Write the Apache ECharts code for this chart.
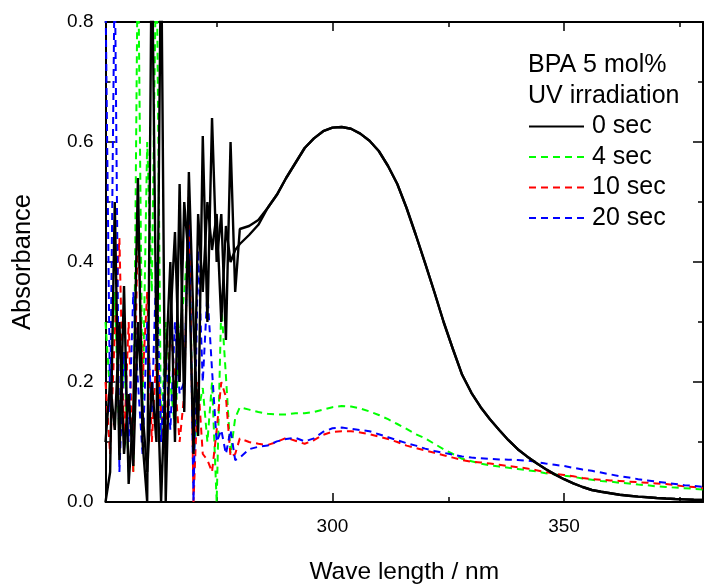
<!DOCTYPE html>
<html>
<head>
<meta charset="utf-8">
<script src="https://cdn.jsdelivr.net/npm/echarts@6/dist/echarts.min.js"></script>
<style>html,body{margin:0;padding:0;background:#fff;}#c{width:704px;height:585px;}</style>
</head>
<body>
<div id="c"></div>
<script>
// wavelengths (nm): 1 nm steps 251-280, then 2 nm steps 282-380
const wavelengths = [251,252,253,254,255,256,257,258,259,260,261,262,263,264,265,266,267,268,269,270,271,272,273,274,275,276,277,278,279,280,
  282,284,286,288,290,292,294,296,298,300,302,304,306,308,310,312,314,316,318,320,322,324,326,328,330,332,334,336,338,340,
  342,344,346,348,350,352,354,356,358,360,362,364,366,368,370,372,374,376,378,380];

const sec0a = [0.00,0.05,0.50,0.07,0.36,0.03,0.15,0.54,0.10,0.00,0.95,0.25,0.00,0.22,0.40,0.10,0.53,0.15,0.55,0.30,0.11,0.61,0.30,0.64,0.40,0.48,0.27,0.60,0.35,0.455,
  0.46,0.47,0.49,0.512,0.54,0.565,0.59,0.606,0.618,0.624,0.625,0.622,0.614,0.602,0.585,0.56,0.53,0.49,0.445,0.398,0.35,0.30,0.255,0.212,0.182,0.158,0.138,0.12,0.103,0.088,
  0.076,0.065,0.055,0.046,0.038,0.031,0.025,0.02,0.017,0.0145,0.012,0.0105,0.009,0.0078,0.0067,0.0058,0.005,0.0044,0.0038,0.0033];

const sec0b = [0.10,0.20,0.12,0.30,0.08,0.18,0.06,0.30,0.15,0.05,0.20,0.10,0.95,0.00,0.30,0.45,0.20,0.50,0.40,0.08,0.48,0.35,0.50,0.42,0.48,0.30,0.46,0.40,0.42,0.43,
  0.445,0.462,0.49,0.512,0.54,0.565,0.59,0.606,0.618,0.624,0.625,0.622,0.614,0.602,0.585,0.56,0.53,0.49,0.445,0.398,0.35,0.30,0.255,0.212,0.182,0.158,0.138,0.12,0.103,0.088,
  0.076,0.065,0.055,0.046,0.038,0.031,0.025,0.02,0.017,0.0145,0.012,0.0105,0.009,0.0078,0.0067,0.0058,0.005,0.0044,0.0038,0.0033];

const sec4 = [0.30,0.18,0.35,0.10,0.25,0.05,0.05,0.95,0.15,0.60,0.35,0.95,0.10,0.30,0.20,0.12,0.28,0.35,0.45,0.08,0.15,0.19,0.10,0.20,0.00,0.33,0.21,0.08,0.14,0.158,
  0.154,0.15,0.147,0.146,0.146,0.148,0.148,0.15,0.154,0.158,0.16,0.159,0.156,0.151,0.145,0.138,0.13,0.122,0.113,0.106,0.097,0.088,0.08,0.072,0.068,0.064,0.061,0.059,0.057,0.055,
  0.053,0.051,0.048,0.046,0.044,0.042,0.039,0.037,0.035,0.034,0.032,0.031,0.029,0.028,0.026,0.025,0.024,0.023,0.022,0.021];

const sec10 = [0.20,0.08,0.28,0.44,0.10,0.30,0.05,0.47,0.20,0.35,0.10,0.25,0.15,0.08,0.30,0.20,0.10,0.18,0.52,0.00,0.20,0.08,0.07,0.05,0.12,0.20,0.175,0.075,0.08,0.106,
  0.10,0.097,0.095,0.10,0.107,0.102,0.097,0.103,0.112,0.117,0.118,0.118,0.116,0.113,0.109,0.105,0.10,0.094,0.09,0.086,0.082,0.078,0.074,0.07,0.067,0.066,0.064,0.062,0.06,0.058,
  0.056,0.053,0.05,0.047,0.045,0.043,0.04,0.038,0.037,0.036,0.035,0.034,0.033,0.032,0.031,0.03,0.028,0.026,0.025,0.023];

const sec20 = [0.85,0.15,0.90,0.05,0.25,0.10,0.35,0.20,0.08,0.30,0.15,0.40,0.10,0.25,0.12,0.30,0.18,0.20,0.50,0.00,0.42,0.20,0.35,0.22,0.10,0.12,0.08,0.12,0.07,0.074,
  0.088,0.092,0.094,0.101,0.105,0.107,0.101,0.106,0.117,0.123,0.124,0.122,0.12,0.118,0.113,0.108,0.103,0.098,0.094,0.089,0.085,0.082,0.079,0.076,0.074,0.073,0.072,0.071,0.0705,0.07,
  0.069,0.067,0.064,0.062,0.06,0.057,0.054,0.052,0.049,0.046,0.043,0.041,0.038,0.036,0.034,0.032,0.03,0.028,0.027,0.025];

const xLabelTicks = [300, 350];
const xMinorTicks = [275, 325, 375];
const legendTitle = ['BPA 5 mol%', 'UV irradiation'];
const legendNames = ['0 sec', '4 sec', '10 sec', '20 sec'];

const FONT = "'Liberation Sans', Arial, sans-serif";
const pairs = arr => wavelengths.map((w, i) => [w, arr[i]]);
const chart = echarts.init(document.getElementById('c'), null, {renderer: 'canvas'});

const axisLine = {show: true, lineStyle: {color: '#000', width: 2}};
const xBase = {type: 'value', min: 251, max: 380, splitLine: {show: false}};
const yBase = {type: 'value', min: 0, max: 0.8, interval: 0.2, splitLine: {show: false},
  minorTick: {show: true, splitNumber: 2, length: 5, lineStyle: {color: '#000', width: 1.5}},
  minorSplitLine: {show: false}};

function dashed(name, color, arr) {
  return {name: name, type: 'line', data: pairs(arr), symbol: 'none', showSymbol: false,
    lineStyle: {color: color, width: 2, type: [7, 5]}, itemStyle: {color: color}, z: 2, animation: false};
}

chart.setOption({
  animation: false,
  grid: {left: 105.5, right: 1, top: 22, bottom: 83, containLabel: false, outerBoundsMode: 'none'},
  xAxis: [
    Object.assign({}, xBase, {position: 'bottom', axisLine: axisLine,
      axisTick: {show: true, inside: true, length: 9, customValues: xLabelTicks, lineStyle: {color: '#000', width: 1.5}},
      axisLabel: {show: true, customValues: xLabelTicks, margin: 15, color: '#000', fontSize: 19, fontFamily: FONT},
      name: 'Wave length / nm', nameLocation: 'middle', nameGap: 58,
      nameTextStyle: {color: '#000', fontSize: 24.5, fontFamily: FONT}}),
    Object.assign({}, xBase, {position: 'bottom', axisLine: {show: false},
      axisTick: {show: true, inside: true, length: 5, customValues: xMinorTicks, lineStyle: {color: '#000', width: 1.5}},
      axisLabel: {show: false}}),
    Object.assign({}, xBase, {position: 'top', axisLine: axisLine,
      axisTick: {show: true, inside: true, length: 9, customValues: xLabelTicks, lineStyle: {color: '#000', width: 1.5}},
      axisLabel: {show: false}}),
    Object.assign({}, xBase, {position: 'top', axisLine: {show: false},
      axisTick: {show: true, inside: true, length: 5, customValues: xMinorTicks, lineStyle: {color: '#000', width: 1.5}},
      axisLabel: {show: false}})
  ],
  yAxis: [
    Object.assign({}, yBase, {position: 'left', axisLine: axisLine,
      axisTick: {show: true, inside: true, length: 10, lineStyle: {color: '#000', width: 1.5}},
      axisLabel: {show: true, margin: 12, color: '#000', fontSize: 19, fontFamily: FONT, formatter: v => v.toFixed(1)},
      name: 'Absorbance', nameLocation: 'middle', nameGap: 70,
      nameTextStyle: {color: '#000', fontSize: 25.5, fontFamily: FONT}}),
    Object.assign({}, yBase, {position: 'right', axisLine: axisLine,
      axisTick: {show: true, inside: true, length: 10, lineStyle: {color: '#000', width: 1.5}},
      axisLabel: {show: false}})
  ],
  legend: {
    data: legendNames, orient: 'vertical', left: 528, top: 114, itemWidth: 55, itemHeight: 14, itemGap: 5.5,
    padding: 0, itemStyle: {opacity: 0},
    textStyle: {color: '#000', fontSize: 25, fontFamily: FONT, padding: [0, 0, 0, 3]}, selectedMode: false
  },
  graphic: [
    {type: 'text', left: 528, top: 53, style: {text: legendTitle[0], fill: '#000', font: '25px ' + FONT}},
    {type: 'text', left: 528, top: 84, style: {text: legendTitle[1], fill: '#000', font: '25px ' + FONT}}
  ],
  series: [
    dashed('4 sec', '#00ff00', sec4),
    dashed('10 sec', '#ff0000', sec10),
    dashed('20 sec', '#0000ff', sec20),
    {name: '0 sec', type: 'line', data: pairs(sec0a), symbol: 'none', showSymbol: false,
      lineStyle: {color: '#000', width: 2.4}, itemStyle: {color: '#000'}, z: 3},
    {name: '0 sec (repeat)', type: 'line', data: pairs(sec0b), symbol: 'none', showSymbol: false,
      lineStyle: {color: '#000', width: 2.4}, itemStyle: {color: '#000'}, z: 3}
  ]
});
</script>
</body>
</html>
